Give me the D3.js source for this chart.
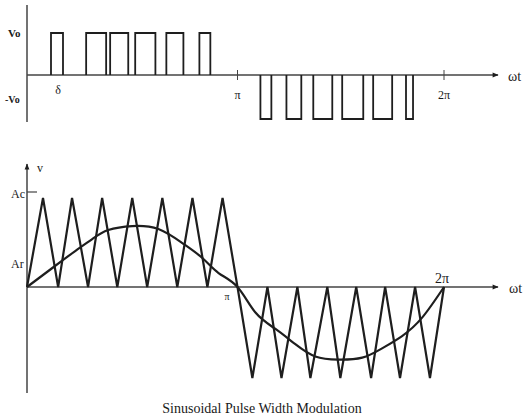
<!DOCTYPE html>
<html>
<head>
<meta charset="utf-8">
<script src="https://cdn.jsdelivr.net/npm/d3@7/dist/d3.min.js"></script>
<style>
  html, body { margin: 0; padding: 0; background: #fff; }
  svg { display: block; }
  text { font-family: "Liberation Serif", "DejaVu Serif", serif; fill: #1a1a1a; }
</style>
</head>
<body>
<svg id="chart" width="526" height="420"></svg>
<script>
// Time is measured in multiples of π (0 … 2).

// PWM output pulses: [start, end] of each pulse
const posPulses = [[0.114, 0.171], [0.281, 0.376], [0.395, 0.481], [0.514, 0.610], [0.662, 0.743], [0.819, 0.871]];
const negPulses = [[1.111, 1.164], [1.237, 1.309], [1.367, 1.459], [1.507, 1.609], [1.657, 1.749], [1.816, 1.850]];

// Triangular carrier: vertex times and levels (Ac = 1)
const carrierT = [0, 0.076, 0.148, 0.214, 0.290, 0.357, 0.429, 0.500, 0.571, 0.643, 0.714, 0.786, 0.857, 0.929, 1.0,
                  1.072, 1.145, 1.213, 1.290, 1.353, 1.435, 1.498, 1.575, 1.647, 1.715, 1.787, 1.860, 1.932, 2.0];
const carrierV = [0, 1, 0, 1, 0, 1, 0, 1, 0, 1, 0, 1, 0, 1, 0,
                  -1, 0, -1, 0, -1, 0, -1, 0, -1, 0, -1, 0, -1, 0];

// Sinusoidal reference
const refT = [0, 0.133, 0.229, 0.310, 0.386, 0.500, 0.624, 0.738, 0.833, 0.910, 1.0,
              1.087, 1.184, 1.280, 1.377, 1.488, 1.604, 1.700, 1.797, 1.894, 2.0];
const refV = [0, 0.236, 0.404, 0.539, 0.640, 0.685, 0.652, 0.494, 0.326, 0.157, 0,
              -0.281, -0.461, -0.629, -0.764, -0.798, -0.776, -0.674, -0.539, -0.337, 0];

const topTicks = [1, 2];
const topTickLabels = ["π", "2π"];
const titleText = "Sinusoidal Pulse Width Modulation";

const svg = d3.select("#chart");
const ink = "#1e1e1e";
const axisInk = "#444";

const x = d3.scaleLinear().domain([0, 1, 2]).range([27, 237.5, 444]);
const yTop = d3.scaleLinear().domain([-1, 0, 1]).range([119, 75, 33]);
const yBot = d3.scaleLinear().domain([-1, 0, 1]).range([378, 287, 198]);

// arrow heads
const defs = svg.append("defs");
defs.append("marker").attr("id", "arrow")
  .attr("viewBox", "0 0 10 10").attr("refX", 9).attr("refY", 5)
  .attr("markerWidth", 8).attr("markerHeight", 6).attr("markerUnits", "userSpaceOnUse")
  .attr("orient", "auto")
  .append("path").attr("d", "M0,1 L10,5 L0,9 Z").attr("fill", ink);

// ---------- upper panel: PWM output ----------
const gTop = svg.append("g");
gTop.append("line").attr("x1", x(0)).attr("x2", x(0)).attr("y1", 5).attr("y2", 122)
  .attr("stroke", axisInk).attr("stroke-width", 1.5);
gTop.append("line").attr("x1", x(0)).attr("x2", 498).attr("y1", yTop(0)).attr("y2", yTop(0))
  .attr("stroke", axisInk).attr("stroke-width", 1.5).attr("marker-end", "url(#arrow)");

gTop.selectAll("line.tick").data(topTicks).join("line").attr("class", "tick")
  .attr("x1", d => x(d)).attr("x2", d => x(d))
  .attr("y1", yTop(0) - 5).attr("y2", yTop(0) + 5)
  .attr("stroke", axisInk).attr("stroke-width", 1);
gTop.selectAll("text.tick").data(topTicks).join("text").attr("class", "tick")
  .attr("x", d => x(d)).attr("y", 99).attr("text-anchor", "middle")
  .attr("font-size", 12).text((d, i) => topTickLabels[i]);

const pulsePath = (p, v) => `M${x(p[0])},${yTop(0)}V${yTop(v)}H${x(p[1])}V${yTop(0)}`;
gTop.selectAll("path.pos").data(posPulses).join("path").attr("class", "pos")
  .attr("d", d => pulsePath(d, 1)).attr("fill", "none").attr("stroke", ink).attr("stroke-width", 1.8);
gTop.selectAll("path.neg").data(negPulses).join("path").attr("class", "neg")
  .attr("d", d => pulsePath(d, -1)).attr("fill", "none").attr("stroke", ink).attr("stroke-width", 1.8);

gTop.append("text").attr("x", 8).attr("y", 37).attr("font-size", 11).attr("font-weight", "bold").text("Vo");
gTop.append("text").attr("x", 5).attr("y", 103).attr("font-size", 10).attr("font-weight", "bold").text("-Vo");
gTop.append("text").attr("x", x(0.148)).attr("y", 94).attr("text-anchor", "middle").attr("font-size", 12).text("δ");
gTop.append("text").attr("x", 508).attr("y", 81).attr("font-size", 14).text("ωt");

// ---------- lower panel: carrier and reference ----------
const gBot = svg.append("g");
gBot.append("line").attr("x1", x(0)).attr("x2", x(0)).attr("y1", 393).attr("y2", 164)
  .attr("stroke", axisInk).attr("stroke-width", 1.5).attr("marker-end", "url(#arrow)");
gBot.append("line").attr("x1", x(0)).attr("x2", 498).attr("y1", yBot(0)).attr("y2", yBot(0))
  .attr("stroke", axisInk).attr("stroke-width", 1.5).attr("marker-end", "url(#arrow)");
gBot.append("line").attr("x1", x(0)).attr("x2", x(0) + 10).attr("y1", 192).attr("y2", 192)
  .attr("stroke", axisInk).attr("stroke-width", 1.2);

const carrierLine = d3.line().x(d => x(d[0])).y(d => yBot(d[1]));
gBot.append("path").datum(d3.zip(carrierT, carrierV)).attr("d", carrierLine)
  .attr("fill", "none").attr("stroke", ink).attr("stroke-width", 2.2).attr("stroke-linejoin", "miter");

const refLine = d3.line().x(d => x(d[0])).y(d => yBot(d[1])).curve(d3.curveNatural);
gBot.append("path").datum(d3.zip(refT, refV)).attr("d", refLine)
  .attr("fill", "none").attr("stroke", ink).attr("stroke-width", 2.2);

gBot.append("text").attr("x", 37).attr("y", 172).attr("font-size", 12).text("v");
gBot.append("text").attr("x", 11).attr("y", 198).attr("font-size", 12).text("Ac");
gBot.append("text").attr("x", 11).attr("y", 268).attr("font-size", 12).text("Ar");
gBot.append("text").attr("x", 227).attr("y", 300).attr("text-anchor", "middle").attr("font-size", 10).text("π");
gBot.append("text").attr("x", 442).attr("y", 283).attr("text-anchor", "middle").attr("font-size", 14).text("2π");
gBot.append("text").attr("x", 509).attr("y", 293).attr("font-size", 14).text("ωt");

svg.append("text").attr("x", 262).attr("y", 413).attr("text-anchor", "middle")
  .attr("font-size", 14).text(titleText);
</script>
</body>
</html>
